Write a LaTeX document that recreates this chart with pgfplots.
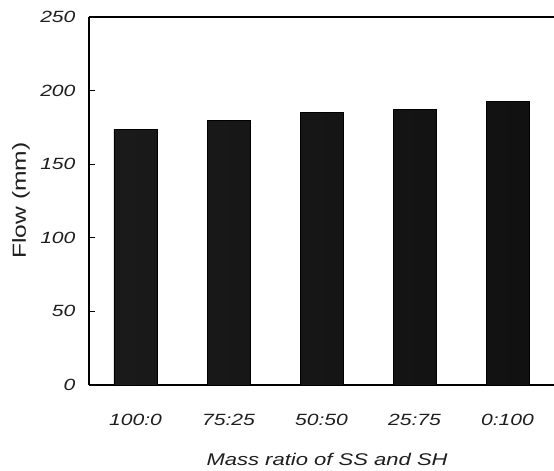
\documentclass[border=0pt]{standalone}
\usepackage{pgfplots}
\pgfplotsset{compat=1.18}
\usepackage{fontspec}
\setmainfont[FakeStretch=1.3]{Liberation Sans}
\definecolor{txt}{HTML}{1E1E1E}
\definecolor{barL}{HTML}{1A1A1A}
\definecolor{barM}{HTML}{383838}
\definecolor{barR}{HTML}{111111}
\begin{document}
\begin{tikzpicture}
\path[use as bounding box] (-89bp,-86bp) rectangle (465bp,385bp);
\begin{axis}[
  at={(0,0)}, anchor=south west,
  scale only axis, width=465bp, height=368bp,
  xmin=-0.5, xmax=4.5, ymin=0, ymax=250,
  axis x line*=box, axis y line*=left,
  separate axis lines,
  x axis line style={line width=2.2bp, -},
  y axis line style={line width=1.6bp, -},
  xtick={0,1,2,3,4},
  xticklabels={100:0,75:25,50:50,25:75,0:100},
  xtick style={draw=none},
  ytick={0,50,100,150,200,250},
  ytick align=inside, ytick pos=left,
  major tick length=6bp,
  ytick style={draw=black, line width=1bp},
  /pgf/number format/assume math mode=true,
  tick label style={font=\fontsize{16.3}{18}\selectfont\itshape, text=txt},
  xticklabel style={yshift=-26bp},
  yticklabel style={xshift=-10bp},
  xlabel={Mass ratio of SS and SH},
  ylabel={Flow (mm)},
  xlabel style={font=\fontsize{17}{20}\selectfont\itshape, text=txt,
    at={(axis description cs:0.512,-0.2024)}, anchor=center},
  ylabel style={font=\fontsize{19}{22}\selectfont, text=txt,
    at={(axis description cs:-0.1462,0.501)}, anchor=center},
  clip=false,
]
\addplot[ybar, bar width=43bp, draw=black, line width=0.6bp,
  left color=barL, middle color=barM, right color=barR]
  coordinates {(0,173.7) (1,180) (2,185.2) (3,187.3) (4,192.5)};
\pgfplotsinvokeforeach{50,100,150,200}{
  \draw[line width=1bp, black] (axis cs:-0.5,#1) -- (axis cs:-0.436,#1);
}
\end{axis}
\end{tikzpicture}
\end{document}
